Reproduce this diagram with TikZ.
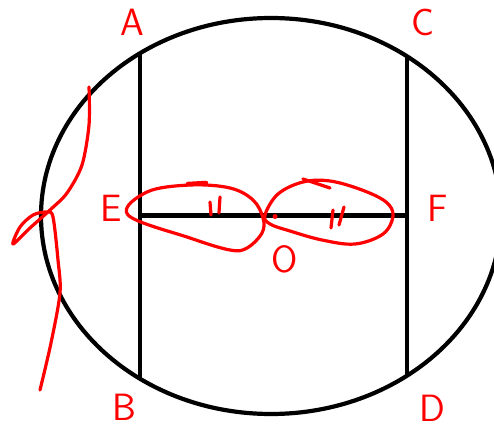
\documentclass[tikz,border=0pt]{standalone}
\usepackage{tikz}
\usetikzlibrary{calc}
\usepackage{xcolor}
\definecolor{penred}{RGB}{255,0,0}
\tikzset{
    chord/.style={line width=4.2pt, draw=black},
    ink/.style={line width=3.2pt, draw=penred, line cap=round, line join=round},
    letter/.style={text=penred, font=\fontsize{38}{38}\selectfont\sffamily, inner sep=0pt}
}

\begin{document}
\begin{tikzpicture}[x=1pt, y=-1pt]
    \clip (0,0) rectangle (494,430);
    \fill[white] (0,0) rectangle (494,430);

    % circle and chords
    \draw[chord] (271,216) ellipse [x radius=230, y radius=198];
    \coordinate (a) at (140,53);
    \coordinate (b) at (140,378);
    \coordinate (c) at (407,57);
    \coordinate (d) at (407,377);
    \coordinate (e) at (140,215.5);
    \coordinate (f) at (407,215.5);
    \coordinate (o) at (275,216.5);
    \draw[chord] (a) -- (b);
    \draw[chord] (c) -- (d);
    \draw[chord] (e) -- (f);

    % labels
    \node[letter] (la) at (132,22) {A};
    \node[letter] (lc) at (423,22) {C};
    \node[letter] (le) at (111,208) {E};
    \node[letter] (lf) at (438,208) {F};
    \node[letter] (lo) at (285,259) {O};
    \node[letter] (lb) at (124,407) {B};
    \node[letter] (ld) at (432,408) {D};

    % equal halves
    \draw[ink] plot[smooth cycle, tension=0.6] coordinates {
        (128,215) (147,192) (190,185) (230,188) (253,200) (263,218)
        (262,233) (247,248) (230,250) (190,238)};
    \draw[ink] plot[smooth cycle, tension=0.6] coordinates {
        (265,215) (278,194) (303,182) (330,181) (362,190) (386,202)
        (393,216) (383,234) (355,244) (322,240) (290,231) (270,224)};
    \draw[ink, line width=4.5pt] (188,184) -- (206,183);
    \draw[ink] (303,179) -- (330,188);
    \fill[penred] (o) circle (2.5);
    \draw[ink] (210,202) -- (211,215);
    \draw[ink] (220,197) -- (219,213);
    \draw[ink] (333,210) -- (331,228);
    \draw[ink] (344,207) -- (339,225);

    % stray stroke on the left
    \draw[ink] plot[smooth, tension=0.5] coordinates {
        (89,87) (89,125) (82,165) (67,193) (50,210) (30,228) (13,244)
        (20,227) (33,215) (47,212) (53,217) (58,260) (60,293) (51,343) (40,390)};
\end{tikzpicture}
\end{document}
